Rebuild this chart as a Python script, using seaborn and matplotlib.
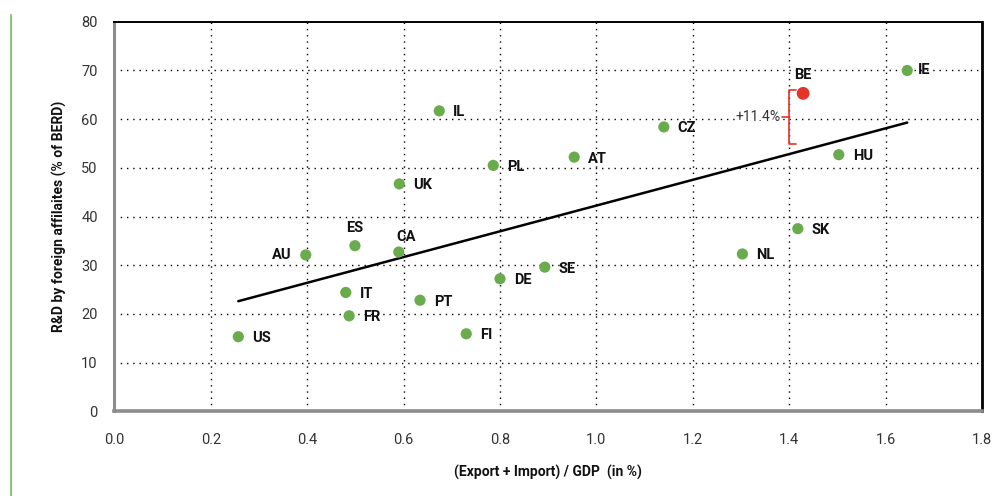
import matplotlib
matplotlib.use("Agg")
import matplotlib.pyplot as plt
import seaborn as sns
import pandas as pd
from matplotlib.lines import Line2D

countries = ["US", "AU", "ES", "CA", "IT", "FR", "PT", "DE", "SE", "FI", "IL", "PL",
             "AT", "UK", "CZ", "BE", "IE", "HU", "SK", "NL"]
trade_share = [0.257, 0.397, 0.499, 0.590, 0.480, 0.487, 0.634, 0.800, 0.893, 0.730,
               0.674, 0.786, 0.954, 0.591, 1.140, 1.429, 1.645, 1.503, 1.418, 1.303]
rd_foreign = [15.3, 32.1, 34.0, 32.7, 24.4, 19.6, 22.8, 27.2, 29.6, 15.9,
              61.7, 50.5, 52.2, 46.7, 58.4, 65.3, 70.0, 52.7, 37.5, 32.3]
highlight = "BE"
trend_x = [0.257, 1.645]
trend_y = [22.6, 59.3]
bracket_x = 1.40
bracket_top = 65.9
bracket_bottom = 54.8
gap_label = "+11.4%"

x_ticks = [0.0, 0.2, 0.4, 0.6, 0.8, 1.0, 1.2, 1.4, 1.6, 1.8]
y_ticks = [0, 10, 20, 30, 40, 50, 60, 70, 80]

df = pd.DataFrame({"country": countries, "x": trade_share, "y": rd_foreign})
df["grp"] = ["hl" if c == highlight else "other" for c in countries]

sns.set_theme(style="white")
plt.rcParams["font.family"] = ["Roboto", "DejaVu Sans"]

GREEN = "#6aac4d"
RED = "#e5332a"

fig = plt.figure(figsize=(10.04, 4.96), dpi=100)
ax = fig.add_axes([0.114, 0.171, 0.864, 0.785])

ax.set_xlim(0, 1.8)
ax.set_ylim(0, 80)

# grid
for xv in x_ticks[1:-1]:
    ax.axvline(xv, color="black", linestyle=(0, (1, 3.5)), linewidth=1.0, zorder=0)
for yv in y_ticks[1:-1]:
    ax.axhline(yv, color="black", linestyle=(0, (1, 3.5)), linewidth=1.0, zorder=0)

# trend line
sns.lineplot(x=trend_x, y=trend_y, ax=ax, color="black", linewidth=1.8, zorder=2)

sns.scatterplot(data=df[df.grp == "other"], x="x", y="y", ax=ax, color=GREEN,
                s=65, edgecolor="none", zorder=3, legend=False)
sns.scatterplot(data=df[df.grp == "hl"], x="x", y="y", ax=ax, color=RED,
                s=85, edgecolor="none", zorder=3, legend=False)

offsets = {"AU": (-10, 0, "right", "center"),
           "ES": (0, 8, "center", "bottom"),
           "CA": (-2, 6, "left", "bottom"),
           "BE": (0, 8, "center", "bottom"),
           "IE": (8, 0, "left", "center")}
for c, xv, yv in zip(countries, trade_share, rd_foreign):
    dx, dy, ha, va = offsets.get(c, (10, -1, "left", "center"))
    ax.annotate(c, (xv, yv), xytext=(dx, dy), textcoords="offset points",
                ha=ha, va=va, fontsize=10.5, fontweight="bold", color="#111111", zorder=4)

# bracket
ax.plot([bracket_x + 0.014, bracket_x, bracket_x, bracket_x + 0.014],
        [bracket_top, bracket_top, bracket_bottom, bracket_bottom],
        color=RED, linewidth=1.2, zorder=3)
mid = (bracket_top + bracket_bottom) / 2
ax.plot([bracket_x - 0.014, bracket_x], [mid, mid], color=RED, linewidth=1.2, zorder=3)
ax.text(bracket_x - 0.018, mid, gap_label, ha="right", va="center",
        fontsize=10, color="#333333", zorder=4,
        bbox=dict(facecolor="white", edgecolor="none", pad=0.5))

ax.set_xticks(x_ticks)
ax.set_yticks(y_ticks)
ax.set_xticklabels([f"{v:.1f}" for v in x_ticks])
ax.set_yticklabels([str(v) for v in y_ticks])
ax.tick_params(axis="both", length=0, labelsize=10.5, colors="#333333")
ax.tick_params(axis="x", pad=16)
ax.tick_params(axis="y", pad=12)

ax.set_xlabel("(Export + Import) / GDP  (in %)", fontsize=10, fontweight="bold",
              color="#111111", labelpad=13)
ax.set_ylabel("R&D by foreign affilaites (% of BERD)", fontsize=10, fontweight="bold",
              color="#111111", labelpad=10)

for side in ["top", "right"]:
    ax.spines[side].set_visible(True)
    ax.spines[side].set_color("black")
ax.spines["top"].set_linewidth(1.4)
ax.spines["right"].set_linewidth(2.0)
for side in ["left", "bottom"]:
    ax.spines[side].set_color("#8c8c8c")
ax.spines["left"].set_linewidth(2.2)
ax.spines["bottom"].set_linewidth(2.6)

fig.add_artist(Line2D([0.0105, 0.0105], [0.0, 0.97], color="#8cc47a", linewidth=1.5,
                      transform=fig.transFigure))

fig.savefig("out.png", dpi=100)
